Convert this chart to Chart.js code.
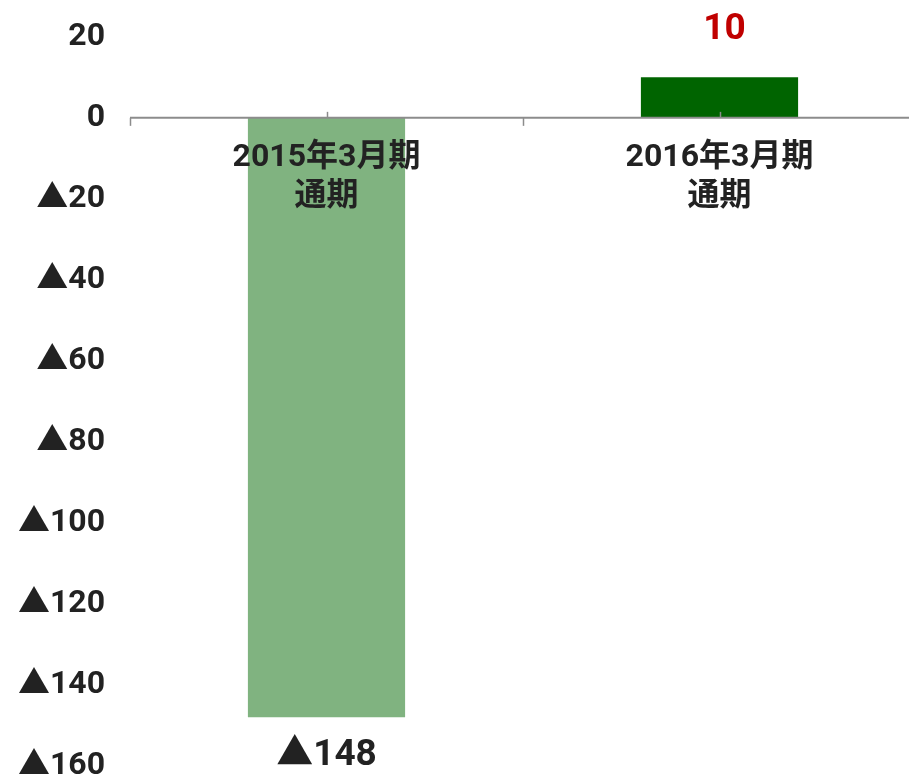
<!DOCTYPE html>
<html>
<head>
<meta charset="utf-8">
<script src="https://cdn.jsdelivr.net/npm/chart.js@4/dist/chart.umd.min.js"></script>
<style>
  html, body { margin: 0; padding: 0; background: #fff; overflow: hidden; }
  #wrap { width: 916px; height: 778px; }
</style>
</head>
<body>
<div id="wrap"><canvas id="profitChart"></canvas></div>
<script>
// データ
const categories = [['2015年3月期', '通期'], ['2016年3月期', '通期']];
const values = [-148, 10];
const barColors = ['#80b380', '#006400'];
const labelColors = ['#222222', '#c00000'];
const yTicks = [20, 0, -20, -40, -60, -80, -100, -120, -140, -160];

const FONT = 'Roboto, "Noto Sans CJK JP", sans-serif';

function fmt(v) {
    return v < 0 ? '▲' + (-v) : String(v);
}

// 軸線・目盛り・カテゴリ名・数値ラベル
const overlay = {
    id: 'overlay',
    afterDatasetsDraw(chart) {
        const ctx = chart.ctx;
        const x = chart.scales.x;
        const y = chart.scales.y;
        const y0 = y.getPixelForValue(0);
        const area = chart.chartArea;
        ctx.save();
        ctx.strokeStyle = '#8c8c8c';
        ctx.lineWidth = 2;
        ctx.beginPath();
        ctx.moveTo(area.left, y0);
        ctx.lineTo(area.right, y0);
        ctx.stroke();
        ctx.lineWidth = 1.5;
        for (let i = 0; i <= categories.length; i++) {
            const bx = x.getPixelForValue(i - 0.5);
            ctx.beginPath();
            ctx.moveTo(Math.round(bx) + 0.5, y0);
            ctx.lineTo(Math.round(bx) + 0.5, y0 + 8);
            ctx.stroke();
        }
        categories.forEach((c, i) => {
            const cx = x.getPixelForValue(i);
            ctx.beginPath();
            ctx.moveTo(Math.round(cx) + 0.5, y0 - 6);
            ctx.lineTo(Math.round(cx) + 0.5, y0);
            ctx.stroke();
        });

        ctx.textAlign = 'center';
        ctx.textBaseline = 'middle';
        ctx.fillStyle = '#222222';
        ctx.font = 'bold 32px ' + FONT;
        categories.forEach((c, i) => {
            const cx = x.getPixelForValue(i);
            c.forEach((line, j) => ctx.fillText(line, cx, y0 + 40 + j * 39));
        });

        ctx.font = 'bold 37px ' + FONT;
        values.forEach((v, i) => {
            const cx = x.getPixelForValue(i);
            const vy = y.getPixelForValue(v);
            ctx.fillStyle = labelColors[i];
            const ly = v < 0 ? vy + 38 : vy - 48;
            ctx.fillText(fmt(v), cx + (v < 0 ? 0 : 5), ly);
        });
        ctx.restore();
    }
};

new Chart(document.getElementById('profitChart'), {
    type: 'bar',
    data: {
        labels: categories.map(c => c.join(' ')),
        datasets: [{
            data: values,
            backgroundColor: barColors,
            barPercentage: 0.4,
            categoryPercentage: 1.0
        }]
    },
    options: {
        responsive: true,
        maintainAspectRatio: false,
        animation: false,
        layout: { padding: 0 },
        plugins: {
            legend: { display: false },
            tooltip: { enabled: false }
        },
        scales: {
            x: {
                display: false
            },
            y: {
                min: -163,
                max: 29.1,
                afterBuildTicks(scale) {
                    scale.ticks = yTicks.map(v => ({ value: v }));
                },
                afterFit(scale) {
                    scale.width = 130;
                    scale.paddingTop = 0;
                    scale.paddingBottom = 0;
                },
                border: { display: false },
                grid: { display: false, drawTicks: false },
                ticks: {
                    padding: 25,
                    color: '#222222',
                    font: { family: FONT, size: 32, weight: 'bold' },
                    callback: v => fmt(v)
                }
            }
        }
    },
    plugins: [overlay]
});
</script>
</body>
</html>
